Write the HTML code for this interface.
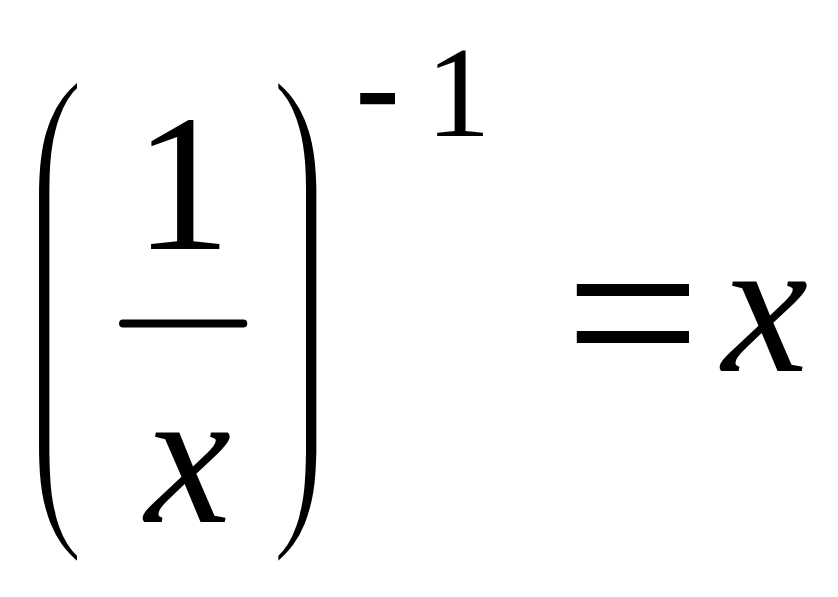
<!DOCTYPE html>
<html lang="en">
<head>
<meta charset="utf-8">
<title>Formula</title>
<style>
html,body{margin:0;padding:0;background:#fff;overflow:hidden}
svg{display:block}
text{fill:#000;font-family:"Liberation Serif",serif;white-space:pre}
.g{text-rendering:geometricPrecision}
.s{font-family:"Liberation Sans",sans-serif}
.it{font-style:italic}
</style>
</head>
<body>
<svg width="838" height="597" viewBox="0 0 838 597">
<defs>
<clipPath id="cLth"><rect x="0" y="0" width="77.04" height="130"/></clipPath>
<clipPath id="cLtl"><rect x="0" y="130" width="77.04" height="59"/></clipPath>
<clipPath id="cLbl"><rect x="0" y="455" width="77.04" height="59"/></clipPath>
<clipPath id="cLbh"><rect x="0" y="514" width="77.04" height="83"/></clipPath>
<clipPath id="cRth"><rect x="278.35" y="0" width="559.65" height="130"/></clipPath>
<clipPath id="cRtl"><rect x="278.35" y="130" width="559.65" height="59"/></clipPath>
<clipPath id="cRbl"><rect x="278.35" y="455" width="559.65" height="59"/></clipPath>
<clipPath id="cRbh"><rect x="278.35" y="514" width="559.65" height="83"/></clipPath>
<clipPath id="cHy"><rect x="360.21" y="93" width="34.79" height="11.3"/></clipPath>
<clipPath id="cEq"><rect x="576.8" y="284" width="112.2" height="11.95"/><rect x="576.8" y="331" width="112.2" height="12"/></clipPath>
</defs>
<rect width="838" height="597" fill="#fff"/>
<!-- left parenthesis: hooks are real "(" glyphs, joined by a straight stem -->
<g clip-path="url(#cLth)"><text class="g" font-size="100" transform="matrix(0.9873 -0.1712 -0.2868 1.4096 31.2034 182.8534)">(</text></g>
<g clip-path="url(#cLtl)"><text class="g" font-size="100" transform="matrix(1.1188 0.2866 0.0557 2.6839 35.4844 276.4434)">(</text></g>
<rect x="39.0546" y="189" width="10.3252" height="266"/>
<g clip-path="url(#cLbl)"><text class="g" font-size="100" transform="matrix(1.0988 -0.0673 0.0133 2.202 34.4603 502.3659)">(</text></g>
<g clip-path="url(#cLbh)"><text class="g" font-size="100" transform="matrix(0.9636 0.2173 0.2712 1.3518 45.0719 527.7051)">(</text></g>
<!-- fraction 1 over x -->
<text font-size="194" x="134" y="249">1</text>
<line x1="123" y1="323.5" x2="243.3" y2="323.5" stroke="#000" stroke-width="7.9" stroke-linecap="round"/>
<text class="it" font-size="194" x="145" y="522">x</text>
<!-- right parenthesis -->
<g clip-path="url(#cRth)"><text class="g" font-size="100" transform="matrix(0.9873 0.1712 0.2868 1.4096 291.3072 177.1525)">)</text></g>
<g clip-path="url(#cRtl)"><text class="g" font-size="100" transform="matrix(1.1188 -0.2866 -0.0557 2.6839 282.6476 285.9868)">)</text></g>
<rect x="306.0102" y="189" width="10.3252" height="266"/>
<g clip-path="url(#cRbl)"><text class="g" font-size="100" transform="matrix(1.0988 0.0673 -0.0133 2.202 284.3387 500.1239)">)</text></g>
<g clip-path="url(#cRbh)"><text class="g" font-size="100" transform="matrix(0.9636 -0.2173 -0.2712 1.3518 278.2305 534.9398)">)</text></g>
<!-- exponent -1 -->
<g clip-path="url(#cHy)"><text font-size="100" transform="matrix(1.4548 0 0 1.9141 353.3114 144)">-</text></g>
<text font-size="130" x="425.67" y="136">1</text>
<!-- = x -->
<g clip-path="url(#cEq)"><text class="g s" font-size="100" transform="matrix(2.3712 0 0 1.881 563.7221 375)">=</text></g>
<text class="it" font-size="194" x="722" y="371">x</text>
</svg>
</body>
</html>
